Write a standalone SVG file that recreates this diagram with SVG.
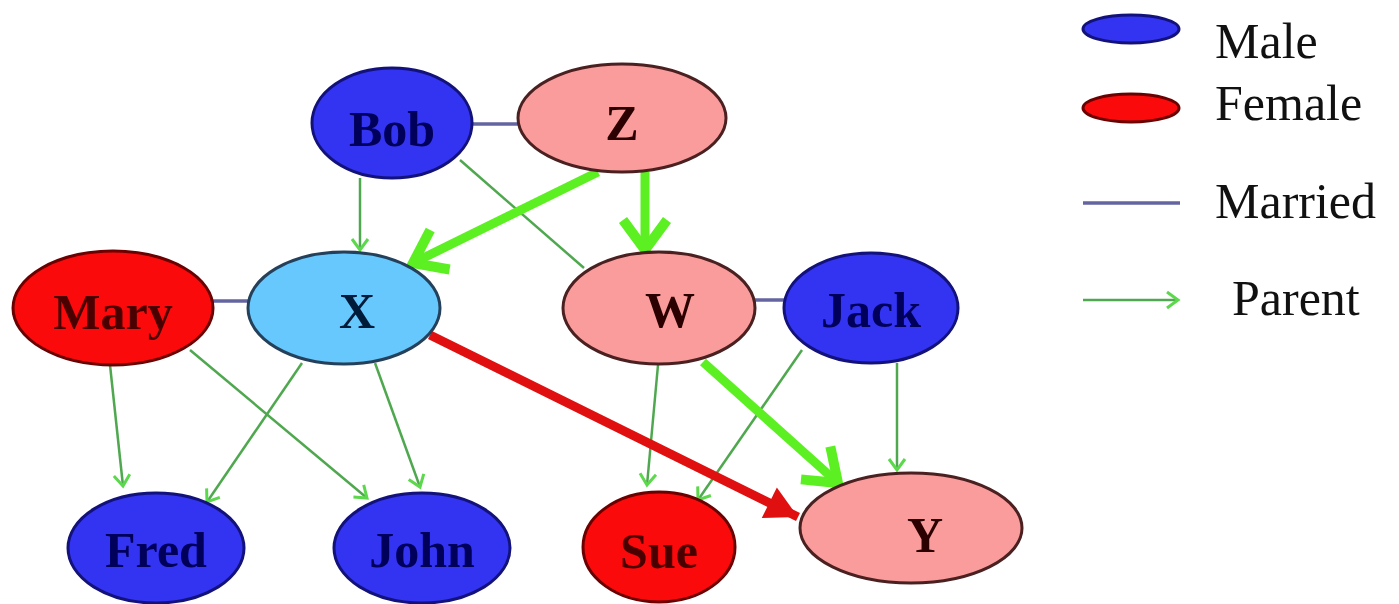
<svg xmlns="http://www.w3.org/2000/svg" width="1399" height="604" viewBox="0 0 1399 604">
<defs>
<style>
.male{fill:#3333f2;stroke:#12127a;stroke-width:3}
.female{fill:#fa0a0a;stroke:#6a0000;stroke-width:3}
.pink{fill:#fa9c9c;stroke:#4a2020;stroke-width:3}
.xn{fill:#66c8fc;stroke:#25405a;stroke-width:3}
.lbl{font-family:"Liberation Serif","Times New Roman",serif;font-size:50px;font-weight:bold;text-anchor:middle}
.lm{fill:#00005a}.lf{fill:#4a0000}.lp{fill:#2a0000}.lx{fill:#001a3a}
.leg{font-family:"Liberation Serif","Times New Roman",serif;font-size:50px;fill:#111}
.mar{stroke:#6464a0;stroke-width:3.5;fill:none}
.par{stroke:#4fa84f;stroke-width:2.5;fill:none}
.big{stroke:#5cf022;stroke-width:9;fill:none}
.red{stroke:#e01010;stroke-width:9;fill:none}
</style>
<marker id="ah" markerUnits="userSpaceOnUse" markerWidth="30" markerHeight="30" viewBox="-15 -15 30 30" refX="0" refY="0" orient="auto">
<path d="M-11,-8 L0,0 L-11,8" fill="none" stroke="#5cd84c" stroke-width="3"/>
</marker>
<marker id="bh" markerUnits="userSpaceOnUse" markerWidth="70" markerHeight="70" viewBox="-35 -35 70 70" refX="0" refY="0" orient="auto">
<path d="M-30,-22 L0,0 L-30,22" fill="none" stroke="#5cf022" stroke-width="10"/>
</marker>
<marker id="rh" markerUnits="userSpaceOnUse" markerWidth="70" markerHeight="70" viewBox="-35 -35 70 70" refX="0" refY="0" orient="auto">
<path d="M-32,-17 L0,0 L-32,17 Z" fill="#e01010"/>
</marker>
</defs>
<rect width="1399" height="604" fill="#ffffff"/>

<g id="connectors">
<line class="mar" x1="472" y1="124" x2="518" y2="124"/>
<line class="mar" x1="212" y1="301" x2="249" y2="301"/>
<line class="mar" x1="754" y1="300" x2="786" y2="300"/>
<line class="par" x1="360" y1="178" x2="360" y2="250" marker-end="url(#ah)"/>
<line class="par" x1="460" y1="160" x2="584" y2="268"/>
<line class="par" x1="110" y1="365" x2="123" y2="486" marker-end="url(#ah)"/>
<line class="par" x1="190" y1="350" x2="367" y2="498" marker-end="url(#ah)"/>
<line class="par" x1="302" y1="363" x2="207" y2="502" marker-end="url(#ah)"/>
<line class="par" x1="375" y1="363" x2="420" y2="487" marker-end="url(#ah)"/>
<line class="par" x1="658" y1="365" x2="647" y2="485" marker-end="url(#ah)"/>
<line class="par" x1="802" y1="350" x2="698" y2="500" marker-end="url(#ah)"/>
<line class="par" x1="897" y1="363" x2="897" y2="470" marker-end="url(#ah)"/>
<line class="big" x1="598" y1="172" x2="413" y2="263" marker-end="url(#bh)"/>
<line class="big" x1="645" y1="172" x2="645" y2="250" marker-end="url(#bh)"/>
<line class="big" x1="703" y1="362" x2="838" y2="483" marker-end="url(#bh)"/>
<line class="red" x1="430" y1="335" x2="798" y2="517" marker-end="url(#rh)"/>
</g>

<g id="node-bob"><ellipse class="male" cx="392" cy="123" rx="80" ry="55"/><text class="lbl lm" x="392" y="146">Bob</text></g>
<g id="node-z"><ellipse class="pink" cx="622" cy="118" rx="104" ry="54"/><text class="lbl lp" x="622" y="140">Z</text></g>
<g id="node-mary"><ellipse class="female" cx="113" cy="308" rx="100" ry="57"/><text class="lbl lf" x="113" y="329">Mary</text></g>
<g id="node-x"><ellipse class="xn" cx="344" cy="308" rx="96" ry="56"/><text class="lbl lx" x="357" y="328">X</text></g>
<g id="node-w"><ellipse class="pink" cx="659" cy="308" rx="96" ry="56"/><text class="lbl lp" x="670" y="327">W</text></g>
<g id="node-jack"><ellipse class="male" cx="871" cy="308" rx="87" ry="55"/><text class="lbl lm" x="871" y="327">Jack</text></g>
<g id="node-fred"><ellipse class="male" cx="156" cy="548" rx="88" ry="55"/><text class="lbl lm" x="156" y="567">Fred</text></g>
<g id="node-john"><ellipse class="male" cx="422" cy="548" rx="88" ry="55"/><text class="lbl lm" x="422" y="567">John</text></g>
<g id="node-sue"><ellipse class="female" cx="659" cy="547" rx="76" ry="55"/><text class="lbl lf" x="659" y="568">Sue</text></g>
<g id="node-y"><ellipse class="pink" cx="911" cy="528" rx="111" ry="55"/><text class="lbl lp" x="925" y="552">Y</text></g>

<g id="legend">
<ellipse class="male" cx="1131" cy="29" rx="48" ry="14"/>
<text class="leg" x="1215" y="58">Male</text>
<ellipse class="female" cx="1131" cy="108" rx="48" ry="14"/>
<text class="leg" x="1215" y="120">Female</text>
<line class="mar" x1="1083" y1="203" x2="1180" y2="203"/>
<text class="leg" x="1215" y="218">Married</text>
<line class="par" x1="1083" y1="300" x2="1178" y2="300" marker-end="url(#ah)"/>
<text class="leg" x="1232" y="315">Parent</text>
</g>
</svg>
